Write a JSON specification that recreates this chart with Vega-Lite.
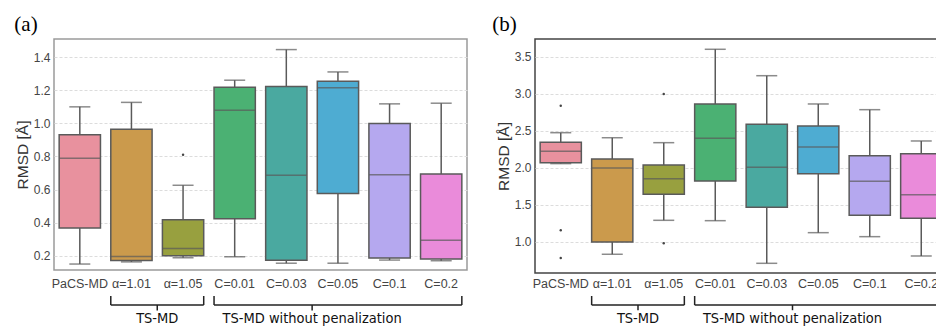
{
  "$schema": "https://vega.github.io/schema/vega-lite/v6.json",
  "background": "white",
  "padding": {"left": 13, "top": 13, "right": 0, "bottom": 0},
  "config": {
    "font": "Liberation Sans",
    "axis": {"labelFont": "Liberation Sans", "titleFont": "Liberation Sans", "labelColor": "#444", "titleColor": "#333", "labelFontSize": 12, "titleFontSize": 15, "titleFontWeight": "normal", "ticks": false, "domain": false},
    "title": {"font": "Liberation Serif", "fontSize": 21, "fontWeight": "normal", "color": "#000", "anchor": "start", "frame": "bounds", "offset": 4}
  },
  "datasets": {
    "a": [
      {"group": "PaCS-MD", "lower": 0.15, "q1": 0.368, "median": 0.789, "q3": 0.931, "upper": 1.1},
      {"group": "α=1.01", "lower": 0.163, "q1": 0.172, "median": 0.196, "q3": 0.964, "upper": 1.127},
      {"group": "α=1.05", "lower": 0.188, "q1": 0.2, "median": 0.244, "q3": 0.417, "upper": 0.626},
      {"group": "C=0.01", "lower": 0.194, "q1": 0.423, "median": 1.079, "q3": 1.219, "upper": 1.261},
      {"group": "C=0.03", "lower": 0.155, "q1": 0.173, "median": 0.687, "q3": 1.223, "upper": 1.446},
      {"group": "C=0.05", "lower": 0.155, "q1": 0.576, "median": 1.215, "q3": 1.255, "upper": 1.311},
      {"group": "C=0.1", "lower": 0.174, "q1": 0.187, "median": 0.69, "q3": 1.0, "upper": 1.118},
      {"group": "C=0.2", "lower": 0.17, "q1": 0.18, "median": 0.294, "q3": 0.694, "upper": 1.122}
    ],
    "aOut": [
      {"group": "α=1.05", "value": 0.81}
    ],
    "b": [
      {"group": "PaCS-MD", "lower": 2.055, "q1": 2.068, "median": 2.221, "q3": 2.343, "upper": 2.473},
      {"group": "α=1.01", "lower": 0.83, "q1": 0.996, "median": 1.996, "q3": 2.118, "upper": 2.405},
      {"group": "α=1.05", "lower": 1.289, "q1": 1.64, "median": 1.851, "q3": 2.036, "upper": 2.338},
      {"group": "C=0.01", "lower": 1.284, "q1": 1.82, "median": 2.397, "q3": 2.861, "upper": 3.6},
      {"group": "C=0.03", "lower": 0.708, "q1": 1.465, "median": 2.005, "q3": 2.586, "upper": 3.243},
      {"group": "C=0.05", "lower": 1.122, "q1": 1.919, "median": 2.28, "q3": 2.564, "upper": 2.861},
      {"group": "C=0.1", "lower": 1.068, "q1": 1.357, "median": 1.816, "q3": 2.162, "upper": 2.784},
      {"group": "C=0.2", "lower": 0.807, "q1": 1.316, "median": 1.635, "q3": 2.189, "upper": 2.361}
    ],
    "bOut": [
      {"group": "PaCS-MD", "value": 2.838},
      {"group": "PaCS-MD", "value": 1.154},
      {"group": "PaCS-MD", "value": 0.78},
      {"group": "α=1.05", "value": 2.996},
      {"group": "α=1.05", "value": 0.978}
    ],
    "brackets": [
      {"label": "TS-MD", "first": "α=1.01", "last": "α=1.05", "mid": "α=1.01"},
      {"label": "TS-MD without penalization", "first": "C=0.01", "last": "C=0.2", "mid": "C=0.03"}
    ]
  },
  "spacing": 23,
  "hconcat": [
    {
      "title": {"text": "(a)", "dx": -1},
      "width": 413,
      "height": 231,
      "view": {"stroke": "#9a9a9a", "strokeWidth": 1.5},
      "resolve": {"scale": {"y": "independent"}, "axis": {"y": "independent"}},
      "encoding": {
        "x": {"field": "group", "type": "nominal", "sort": ["PaCS-MD", "α=1.01", "α=1.05", "C=0.01", "C=0.03", "C=0.05", "C=0.1", "C=0.2"], "scale": {"domain": ["PaCS-MD", "α=1.01", "α=1.05", "C=0.01", "C=0.03", "C=0.05", "C=0.1", "C=0.2"], "paddingInner": 0.2, "paddingOuter": 0.1}, "axis": {"title": null, "labelAngle": 0, "labelPadding": 7, "labelFontSize": 12.5}}
      },
      "layer": [
        {
          "layer": [
            {"data": {"name": "a"}, "mark": {"type": "rule", "color": "#5a5a5a", "strokeWidth": 1.5},
             "encoding": {"y": {"field": "lower", "type": "quantitative", "scale": {"domain": [0.114, 1.51], "nice": false, "zero": false}, "axis": {"title": "RMSD [Å]", "titleFontSize": 15.5, "labelFontSize": 12, "values": [0.2, 0.4, 0.6, 0.8, 1.0, 1.2, 1.4], "tickCount": 12, "labelOverlap": false, "format": ".1f", "grid": true, "gridColor": "#dcdcdc", "gridDash": [3, 2], "labelPadding": 4, "titlePadding": 3}}, "y2": {"field": "upper"}}},
            {"data": {"name": "a"}, "mark": {"type": "bar", "stroke": "#5a5a5a", "strokeWidth": 1.5},
             "encoding": {"y": {"field": "q1", "type": "quantitative"}, "y2": {"field": "q3"},
               "color": {"field": "group", "type": "nominal", "scale": {"domain": ["PaCS-MD", "α=1.01", "α=1.05", "C=0.01", "C=0.03", "C=0.05", "C=0.1", "C=0.2"], "range": ["#e8919e", "#cb9a4c", "#98a03f", "#4bb173", "#4aa9a0", "#4eacd2", "#b5a8ef", "#ea8bda"]}, "legend": null}}},
            {"data": {"name": "a"}, "mark": {"type": "tick", "color": "#5a5a5a", "thickness": 1.5, "size": 41},
             "encoding": {"y": {"field": "median", "type": "quantitative"}}},
            {"data": {"name": "a"}, "mark": {"type": "tick", "color": "#5a5a5a", "thickness": 1.5, "size": 21},
             "encoding": {"y": {"field": "upper", "type": "quantitative"}}},
            {"data": {"name": "a"}, "mark": {"type": "tick", "color": "#5a5a5a", "thickness": 1.5, "size": 21},
             "encoding": {"y": {"field": "lower", "type": "quantitative"}}},
            {"data": {"name": "aOut"}, "mark": {"type": "point", "filled": true, "color": "#444", "size": 6, "opacity": 1},
             "encoding": {"y": {"field": "value", "type": "quantitative"}}}
          ]
        },
        {
          "data": {"name": "brackets"},
          "layer": [
            {"mark": {"type": "rule", "color": "#222", "strokeWidth": 1.5},
             "encoding": {"x": {"field": "first", "type": "nominal", "bandPosition": 0}, "x2": {"field": "last", "bandPosition": 1},
               "y": {"datum": -0.1515, "type": "quantitative", "scale": {"domain": [0, 1], "nice": false, "zero": false}, "axis": null}}},
            {"mark": {"type": "rule", "color": "#222", "strokeWidth": 1.5},
             "encoding": {"x": {"field": "first", "type": "nominal", "bandPosition": 0}, "y": {"datum": -0.1126, "type": "quantitative"}, "y2": {"datum": -0.1515}}},
            {"mark": {"type": "rule", "color": "#222", "strokeWidth": 1.5},
             "encoding": {"x": {"field": "last", "type": "nominal", "bandPosition": 1}, "y": {"datum": -0.1126, "type": "quantitative"}, "y2": {"datum": -0.1515}}},
            {"mark": {"type": "rule", "color": "#222", "strokeWidth": 1.5},
             "encoding": {"x": {"field": "mid", "type": "nominal", "bandPosition": 1.125}, "y": {"datum": -0.1515, "type": "quantitative"}, "y2": {"datum": -0.175}}},
            {"mark": {"type": "text", "font": "DejaVu Sans Condensed", "fontSize": 14.5, "color": "#111", "baseline": "alphabetic", "align": "center"},
             "encoding": {"x": {"field": "mid", "type": "nominal", "bandPosition": 1.125}, "y": {"datum": -0.229, "type": "quantitative"}, "text": {"field": "label"}}}
          ]
        }
      ]
    },
    {
      "title": {"text": "(b)", "dx": -4},
      "width": 412,
      "height": 234,
      "view": {"stroke": "#444", "strokeWidth": 1.5},
      "resolve": {"scale": {"y": "independent"}, "axis": {"y": "independent"}},
      "encoding": {
        "x": {"field": "group", "type": "nominal", "sort": ["PaCS-MD", "α=1.01", "α=1.05", "C=0.01", "C=0.03", "C=0.05", "C=0.1", "C=0.2"], "scale": {"domain": ["PaCS-MD", "α=1.01", "α=1.05", "C=0.01", "C=0.03", "C=0.05", "C=0.1", "C=0.2"], "paddingInner": 0.2, "paddingOuter": 0.1}, "axis": {"title": null, "labelAngle": 0, "labelPadding": 4, "labelFontSize": 12.5}}
      },
      "layer": [
        {
          "layer": [
            {"data": {"name": "b"}, "mark": {"type": "rule", "color": "#5a5a5a", "strokeWidth": 1.5},
             "encoding": {"y": {"field": "lower", "type": "quantitative", "scale": {"domain": [0.577, 3.739], "nice": false, "zero": false}, "axis": {"title": "RMSD [Å]", "titleFontSize": 15.5, "labelFontSize": 12, "values": [1.0, 1.5, 2.0, 2.5, 3.0, 3.5], "tickCount": 12, "labelOverlap": false, "format": ".1f", "grid": true, "gridColor": "#dcdcdc", "gridDash": [3, 2], "labelPadding": 4, "titlePadding": 3}}, "y2": {"field": "upper"}}},
            {"data": {"name": "b"}, "mark": {"type": "bar", "stroke": "#5a5a5a", "strokeWidth": 1.5},
             "encoding": {"y": {"field": "q1", "type": "quantitative"}, "y2": {"field": "q3"},
               "color": {"field": "group", "type": "nominal", "scale": {"domain": ["PaCS-MD", "α=1.01", "α=1.05", "C=0.01", "C=0.03", "C=0.05", "C=0.1", "C=0.2"], "range": ["#e8919e", "#cb9a4c", "#98a03f", "#4bb173", "#4aa9a0", "#4eacd2", "#b5a8ef", "#ea8bda"]}, "legend": null}}},
            {"data": {"name": "b"}, "mark": {"type": "tick", "color": "#5a5a5a", "thickness": 1.5, "size": 41},
             "encoding": {"y": {"field": "median", "type": "quantitative"}}},
            {"data": {"name": "b"}, "mark": {"type": "tick", "color": "#5a5a5a", "thickness": 1.5, "size": 21},
             "encoding": {"y": {"field": "upper", "type": "quantitative"}}},
            {"data": {"name": "b"}, "mark": {"type": "tick", "color": "#5a5a5a", "thickness": 1.5, "size": 21},
             "encoding": {"y": {"field": "lower", "type": "quantitative"}}},
            {"data": {"name": "bOut"}, "mark": {"type": "point", "filled": true, "color": "#444", "size": 6, "opacity": 1},
             "encoding": {"y": {"field": "value", "type": "quantitative"}}}
          ]
        },
        {
          "data": {"name": "brackets"},
          "layer": [
            {"mark": {"type": "rule", "color": "#222", "strokeWidth": 1.5},
             "encoding": {"x": {"field": "first", "type": "nominal", "bandPosition": 0}, "x2": {"field": "last", "bandPosition": 1},
               "y": {"datum": -0.1368, "type": "quantitative", "scale": {"domain": [0, 1], "nice": false, "zero": false}, "axis": null}}},
            {"mark": {"type": "rule", "color": "#222", "strokeWidth": 1.5},
             "encoding": {"x": {"field": "first", "type": "nominal", "bandPosition": 0}, "y": {"datum": -0.0983, "type": "quantitative"}, "y2": {"datum": -0.1368}}},
            {"mark": {"type": "rule", "color": "#222", "strokeWidth": 1.5},
             "encoding": {"x": {"field": "last", "type": "nominal", "bandPosition": 1}, "y": {"datum": -0.0983, "type": "quantitative"}, "y2": {"datum": -0.1368}}},
            {"mark": {"type": "rule", "color": "#222", "strokeWidth": 1.5},
             "encoding": {"x": {"field": "mid", "type": "nominal", "bandPosition": 1.125}, "y": {"datum": -0.1368, "type": "quantitative"}, "y2": {"datum": -0.159}}},
            {"mark": {"type": "text", "font": "DejaVu Sans Condensed", "fontSize": 14.5, "color": "#111", "baseline": "alphabetic", "align": "center"},
             "encoding": {"x": {"field": "mid", "type": "nominal", "bandPosition": 1.125}, "y": {"datum": -0.2137, "type": "quantitative"}, "text": {"field": "label"}}}
          ]
        }
      ]
    }
  ]
}
